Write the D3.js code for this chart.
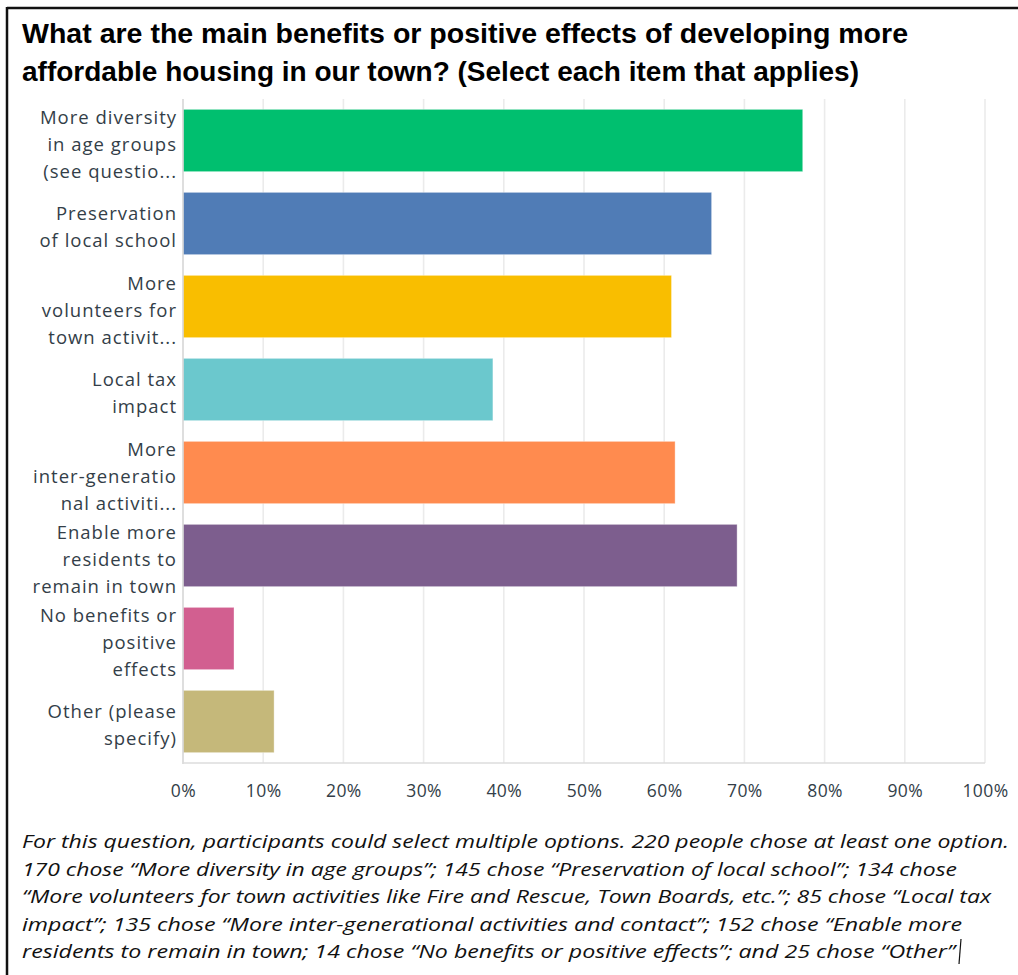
<!DOCTYPE html>
<html>
<head>
<meta charset="utf-8">
<script src="https://cdn.jsdelivr.net/npm/d3@7"></script>
<style>
  html, body { margin: 0; padding: 0; background: #ffffff; }
  svg { display: block; }
</style>
</head>
<body>
<svg id="chart" width="1018" height="975"></svg>
<script>
// ---- Data ----
const categories = [
  "More diversity in age groups (see questio...",
  "Preservation of local school",
  "More volunteers for town activit...",
  "Local tax impact",
  "More inter-generational activiti...",
  "Enable more residents to remain in town",
  "No benefits or positive effects",
  "Other (please specify)"
];
const categoryLines = [
  ["More diversity", "in age groups", "(see questio..."],
  ["Preservation", "of local school"],
  ["More", "volunteers for", "town activit..."],
  ["Local tax", "impact"],
  ["More", "inter-generatio", "nal activiti..."],
  ["Enable more", "residents to", "remain in town"],
  ["No benefits or", "positive", "effects"],
  ["Other (please", "specify)"]
];
const values = [77.27, 65.91, 60.91, 38.64, 61.36, 69.09, 6.36, 11.36];
const barColors = ["#00BF6F", "#507CB6", "#F9BE00", "#6BC8CD", "#FF8B4F", "#7D5E8E", "#D25F90", "#C5B87A"];
const xTicks = [0, 10, 20, 30, 40, 50, 60, 70, 80, 90, 100];
const titleLines = [
  "What are the main benefits or positive effects of developing more",
  "affordable housing in our town? (Select each item that applies)"
];
const noteLines = [
  "For this question, participants could select multiple options. 220 people chose at least one option.",
  "170 chose \u201cMore diversity in age groups\u201d; 145 chose \u201cPreservation of local school\u201d; 134 chose",
  "\u201cMore volunteers for town activities like Fire and Rescue, Town Boards, etc.\u201d; 85 chose \u201cLocal tax",
  "impact\u201d; 135 chose \u201cMore inter-generational activities and contact\u201d; 152 chose \u201cEnable more",
  "residents to remain in town; 14 chose \u201cNo benefits or positive effects\u201d; and 25 chose \u201cOther\u201d"
];

// ---- Layout ----
const svg = d3.select("#chart");
const plot = { left: 183, right: 985, top: 99, bottom: 763 };
const textColor = "#333e48";

// frame border (top and left)
svg.append("line").attr("x1", 7).attr("x2", 1018).attr("y1", 8).attr("y2", 8)
  .attr("stroke", "#111").attr("stroke-width", 2.5);
svg.append("line").attr("x1", 7).attr("x2", 7).attr("y1", 7).attr("y2", 975)
  .attr("stroke", "#111").attr("stroke-width", 2.5);

// title
const titleWidths = [886, 837];
svg.append("g").selectAll("text").data(titleLines).join("text")
  .attr("x", 22)
  .attr("y", (d, i) => 43 + i * 38)
  .attr("font-family", "'Liberation Sans Narrow', 'Arial Narrow', 'Liberation Sans', Arial, sans-serif")
  .attr("font-weight", "bold")
  .attr("font-size", 27)
  .attr("fill", "#000")
  .attr("textLength", (d, i) => titleWidths[i])
  .attr("lengthAdjust", "spacingAndGlyphs")
  .text(d => d);

// scales
const x = d3.scaleLinear().domain([0, 100]).range([plot.left, plot.right]);
const y = d3.scaleBand().domain(categories).range([plot.top, plot.bottom])
  .paddingInner(0.25).paddingOuter(0.125);

// gridlines
svg.append("g").selectAll("line").data(xTicks.filter(t => t > 0)).join("line")
  .attr("x1", d => x(d)).attr("x2", d => x(d))
  .attr("y1", plot.top).attr("y2", plot.bottom)
  .attr("stroke", "#ebebeb").attr("stroke-width", 1.6);

// bars
svg.append("g").selectAll("rect").data(values).join("rect")
  .attr("x", x(0))
  .attr("y", (d, i) => y(categories[i]))
  .attr("width", d => x(d) - x(0))
  .attr("height", y.bandwidth())
  .attr("fill", (d, i) => barColors[i])
  .attr("stroke", "rgba(255,255,255,0.35)")
  .attr("stroke-width", 1);

// axis lines
svg.append("line").attr("x1", plot.left).attr("x2", plot.left)
  .attr("y1", plot.top).attr("y2", plot.bottom + 1)
  .attr("stroke", "#d6d6d6").attr("stroke-width", 1.6);
svg.append("line").attr("x1", plot.left).attr("x2", plot.right)
  .attr("y1", plot.bottom).attr("y2", plot.bottom)
  .attr("stroke", "#dcdcdc").attr("stroke-width", 1.6);

// x axis tick labels via d3 axis
const xAxis = d3.axisBottom(x).tickValues(xTicks).tickFormat(d => d + "%").tickSize(0).tickPadding(0);
const gx = svg.append("g").attr("transform", `translate(0, ${plot.bottom + 22})`).call(xAxis);
gx.select(".domain").remove();
gx.selectAll("text")
  .attr("font-family", "'Open Sans', sans-serif")
  .attr("font-size", 17.5)
  .attr("letter-spacing", 0.4)
  .attr("fill", textColor)
  .attr("dy", "0.71em");

// category labels
const labelG = svg.append("g");
categories.forEach((c, i) => {
  const lines = categoryLines[i];
  const cy = y(c) + y.bandwidth() / 2;
  const n = lines.length;
  labelG.append("text")
    .attr("text-anchor", "end")
    .attr("font-family", "'Open Sans', sans-serif")
    .attr("font-size", 18.5)
    .attr("letter-spacing", 1.0)
    .attr("fill", textColor)
    .selectAll("tspan").data(lines).join("tspan")
    .attr("x", 177)
    .attr("y", (d, j) => cy + 10 + (j - (n - 1) / 2) * 27)
    .text(d => d);
});

// footnote
const noteWidths = [987, 935, 969, 940, 933];
svg.append("g").selectAll("text").data(noteLines).join("text")
  .attr("x", 22)
  .attr("y", (d, i) => 848 + i * 27.6)
  .attr("font-family", "'Open Sans', sans-serif")
  .attr("font-style", "italic")
  .attr("font-size", 19)
  .attr("fill", "#111")
  .attr("textLength", (d, i) => noteWidths[i])
  .attr("lengthAdjust", "spacingAndGlyphs")
  .text(d => d);

// text cursor mark after last line
svg.append("line").attr("x1", 961).attr("x2", 959).attr("y1", 939).attr("y2", 964)
  .attr("stroke", "#111").attr("stroke-width", 1.2);
</script>
</body>
</html>
